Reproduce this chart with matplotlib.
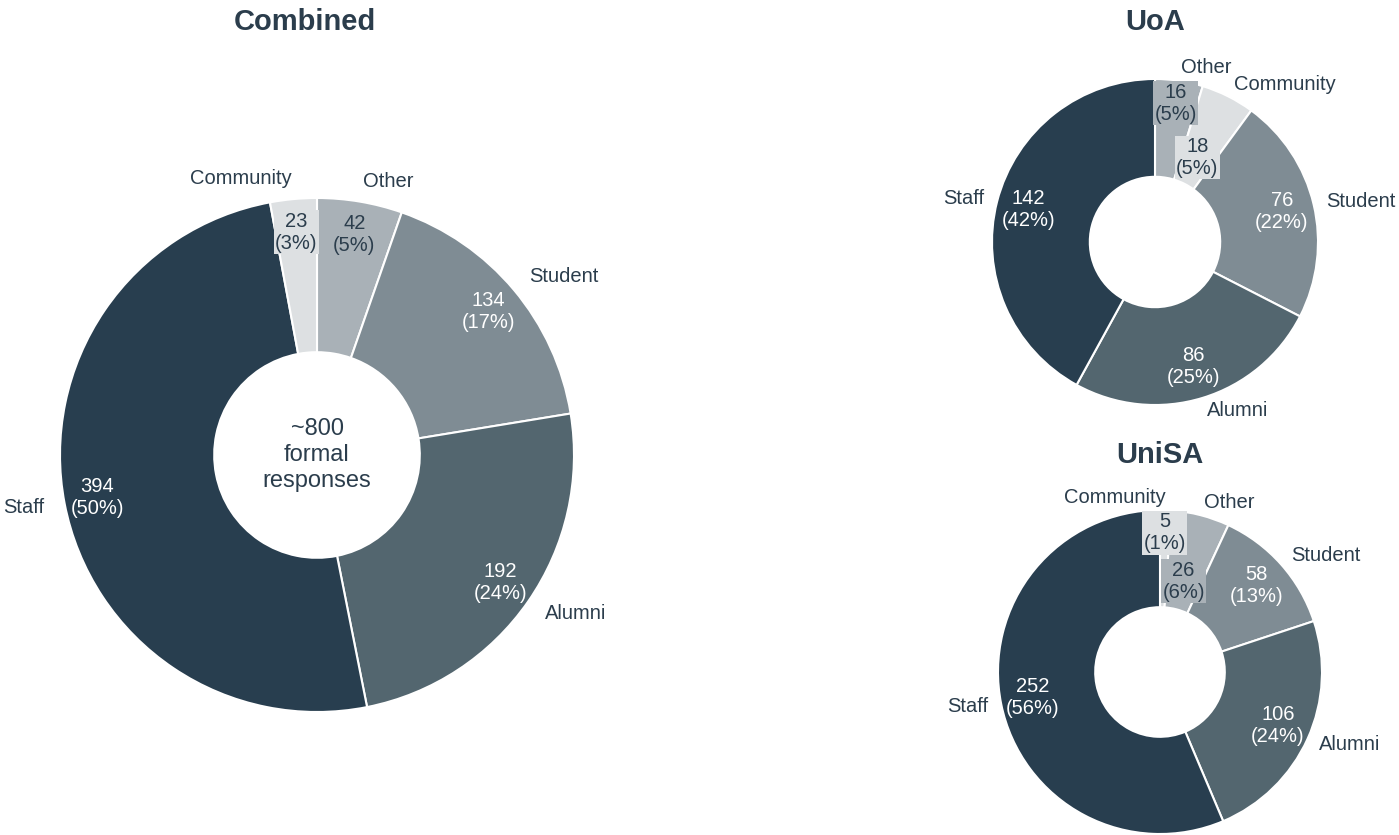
import numpy as np
import matplotlib.pyplot as plt

plt.rcParams['font.family'] = ['Liberation Sans', 'DejaVu Sans']

# data, clockwise from 12 o'clock
combined_labels = ['Other', 'Student', 'Alumni', 'Staff', 'Community']
combined_values = [42, 134, 192, 394, 23]

uoa_labels = ['Other', 'Community', 'Student', 'Alumni', 'Staff']
uoa_values = [16, 18, 76, 86, 142]

unisa_labels = ['Community', 'Other', 'Student', 'Alumni', 'Staff']
unisa_values = [5, 26, 58, 106, 252]

center_text = '~800\nformal\nresponses'

colors = {'Staff': '#283e4f', 'Alumni': '#53666f', 'Student': '#7f8c94',
          'Other': '#a9b1b7', 'Community': '#dde0e2'}
dark_text = '#2b3d4c'

W, H = 1399, 835
fig = plt.figure(figsize=(W / 100, H / 100), dpi=100)


def donut(cx, cy, R, labels, values, lab_r, title, title_x, title_y, fs=14.5):
    h = 1.5 * R
    ax = fig.add_axes([(cx - h) / W, 1 - (cy + h) / H, 2 * h / W, 2 * h / H])
    cols = [colors[l] for l in labels]
    ax.pie(values, colors=cols, startangle=90, counterclock=False, radius=1,
           wedgeprops=dict(width=0.6, edgecolor='white', linewidth=1.5))
    ax.set_xlim(-1.5, 1.5)
    ax.set_ylim(-1.5, 1.5)
    ax.set_aspect('equal')
    ax.axis('off')
    total = float(sum(values))
    start = 0.0
    prev_small = False
    for lab, v, c in zip(labels, values, cols):
        frac = v / total
        mid = np.radians((start + frac / 2) * 360)
        start += frac
        small = frac < 0.07
        r = lab_r
        if small and prev_small:
            r = 0.58
        elif small:
            r = max(lab_r, 0.86)
        prev_small = small
        light = lab in ('Other', 'Community')
        tc = dark_text if light else 'white'
        bbox = dict(facecolor=c, edgecolor='none', pad=1.0) if light else None
        ax.text(r * np.sin(mid), r * np.cos(mid),
                '%d\n(%d%%)' % (v, round(frac * 100)),
                ha='center', va='center', fontsize=fs, color=tc,
                linespacing=1.2, bbox=bbox)
        x, y = 1.08 * np.sin(mid), 1.08 * np.cos(mid)
        ha = 'left' if x > 0.1 else 'right'
        ax.text(x, y, lab, ha=ha, va='center', fontsize=fs, color=dark_text)
    fig.text(title_x / W, 1 - title_y / H, title, ha='center', va='center',
             fontsize=21, fontweight='bold', color=dark_text)
    return ax


ax = donut(317, 455, 257, combined_labels, combined_values, 0.87,
           'Combined', 305, 22)
ax.text(0, 0, center_text, ha='center', va='center', fontsize=17,
        color=dark_text, linespacing=1.25)
donut(1155, 242, 163, uoa_labels, uoa_values, 0.8, 'UoA', 1155, 22)
donut(1160, 672, 162, unisa_labels, unisa_values, 0.8, 'UniSA', 1160, 455)

fig.savefig('out.png', dpi=100)
